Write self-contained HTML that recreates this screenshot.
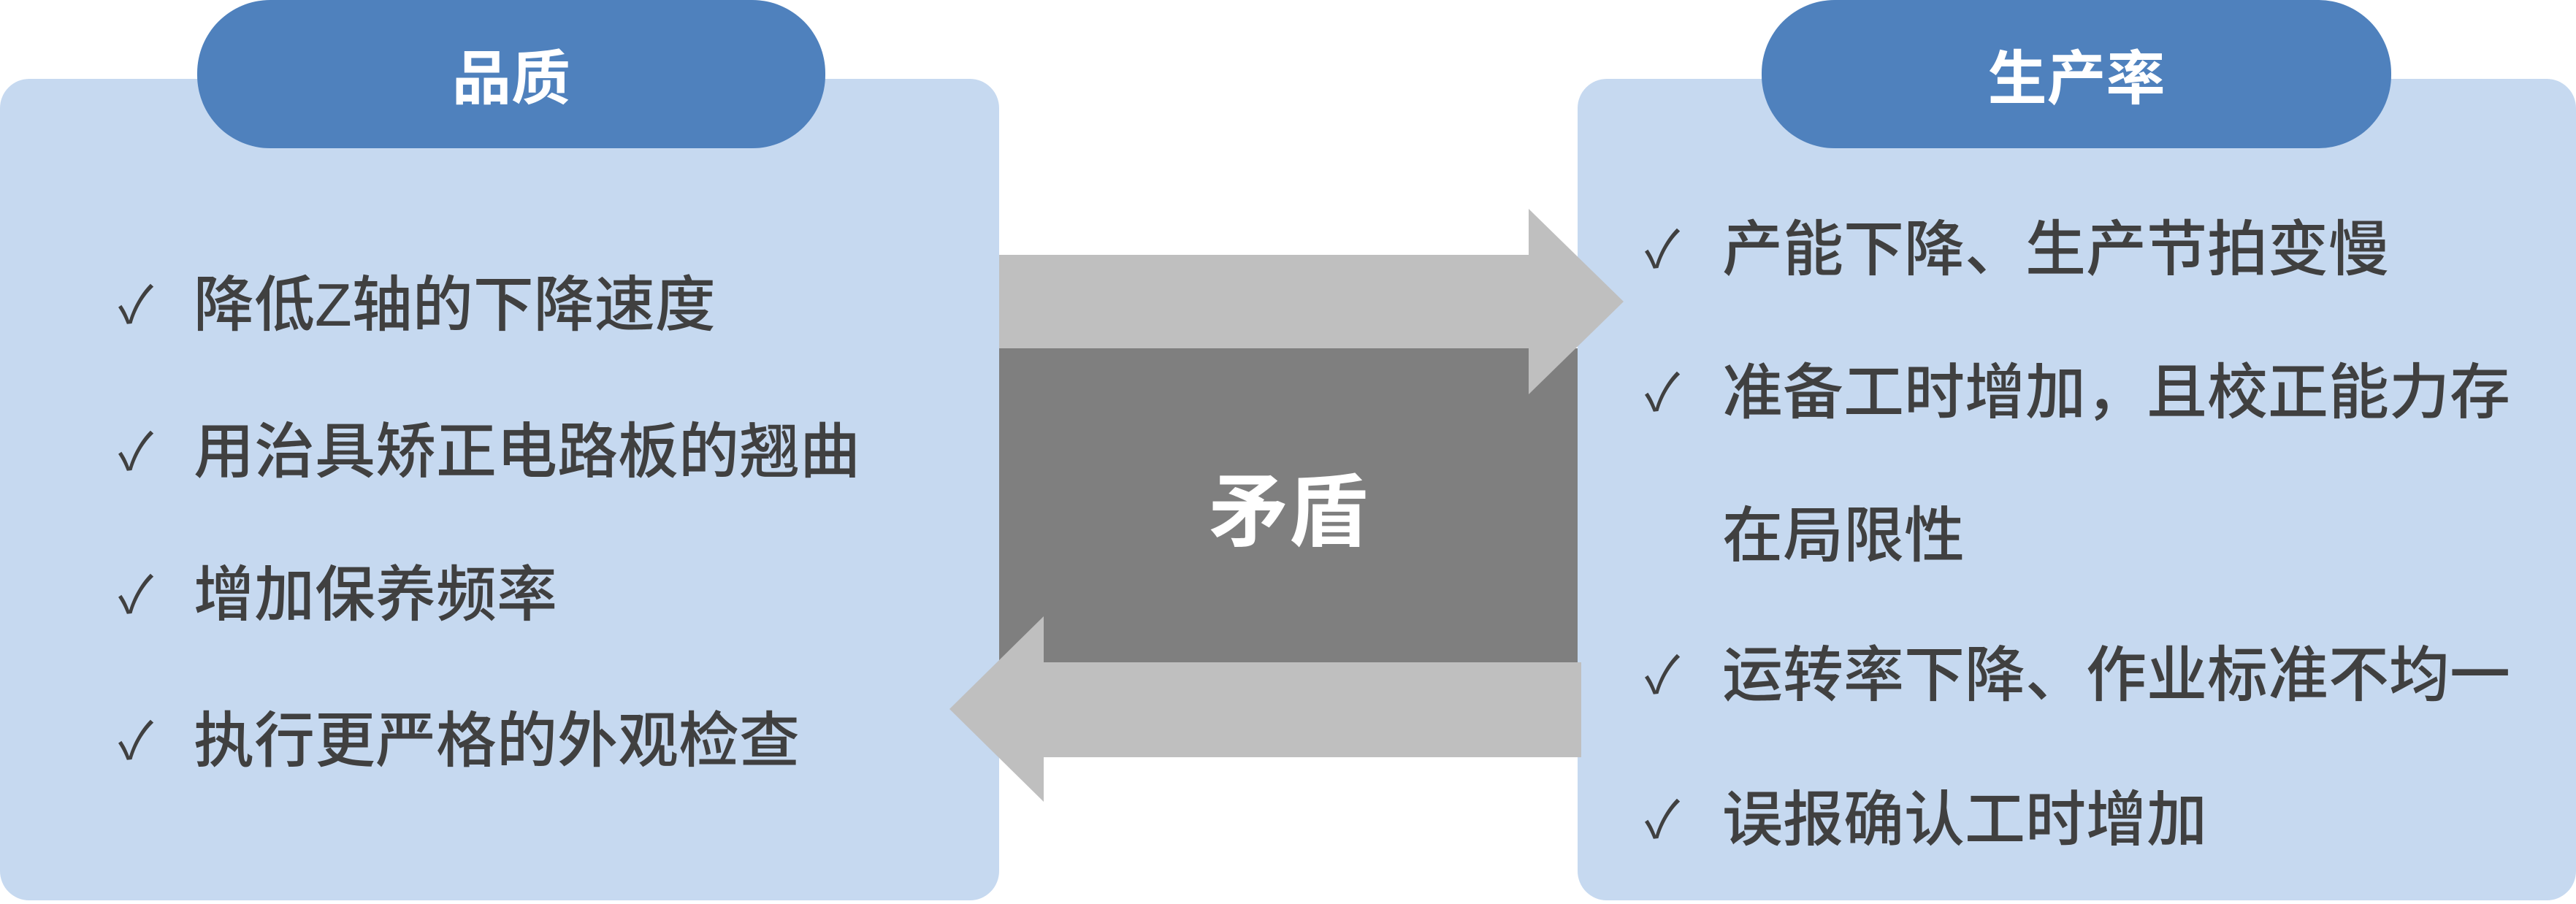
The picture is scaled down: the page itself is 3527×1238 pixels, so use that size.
<!DOCTYPE html>
<html><head><meta charset="utf-8"><style>
body{margin:0;width:3527px;height:1238px;background:#fff;position:relative;overflow:hidden;font-family:"Liberation Sans","Noto Sans CJK SC",sans-serif;}
.p{position:absolute;background:#c6d9f0;border-radius:40px;}
.pill{position:absolute;background:#4f81bd;border-radius:100px;color:#fff;font-weight:bold;font-size:81px;display:flex;align-items:center;justify-content:center;}
.t{position:absolute;font-size:83px;color:#404040;font-weight:500;white-space:nowrap;line-height:100px;}
.c{position:absolute;font-size:70px;color:#404040;line-height:100px;}
</style></head><body>
<div class="p" style="left:0;top:108px;width:1368px;height:1125px"></div>
<div class="p" style="left:2160px;top:108px;width:1367px;height:1125px"></div>
<div class="pill" style="left:270px;top:0;width:860px;height:203px">品质</div>
<div class="pill" style="left:2412px;top:0;width:862px;height:203px">生产率</div>
<div style="position:absolute;left:1368px;top:477px;width:792px;height:430px;background:#7f7f7f"></div>
<svg style="position:absolute;left:0;top:0" width="3527" height="1238">
<polygon fill="#bfbfbf" points="1368,349 2093,349 2093,286 2223,413 2093,540 2093,477 1368,477"/>
<polygon fill="#bfbfbf" points="2165,907 1429,907 1429,844 1300,971 1429,1098 1429,1037 2165,1037"/>
</svg>
<div style="position:absolute;left:1368px;top:477px;width:792px;height:430px;color:#fff;font-weight:bold;font-size:109px;display:flex;align-items:center;justify-content:center">矛盾</div>

<div class="c" style="left:162px;top:368px">✓</div><div class="t" style="left:265px;top:368px">降低Z轴的下降速度</div>
<div class="c" style="left:162px;top:569px">✓</div><div class="t" style="left:265px;top:569px">用治具矫正电路板的翘曲</div>
<div class="c" style="left:162px;top:765px">✓</div><div class="t" style="left:265px;top:765px">增加保养频率</div>
<div class="c" style="left:162px;top:965px">✓</div><div class="t" style="left:265px;top:965px">执行更严格的外观检查</div>

<div class="c" style="left:2252px;top:292px">✓</div><div class="t" style="left:2358px;top:292px">产能下降、生产节拍变慢</div>
<div class="c" style="left:2252px;top:488px">✓</div><div class="t" style="left:2358px;top:488px">准备工时增加，且校正能力存</div>
<div class="t" style="left:2358px;top:684px">在局限性</div>
<div class="c" style="left:2252px;top:875px">✓</div><div class="t" style="left:2358px;top:875px">运转率下降、作业标准不均一</div>
<div class="c" style="left:2252px;top:1073px">✓</div><div class="t" style="left:2358px;top:1073px">误报确认工时增加</div>
</body></html>
